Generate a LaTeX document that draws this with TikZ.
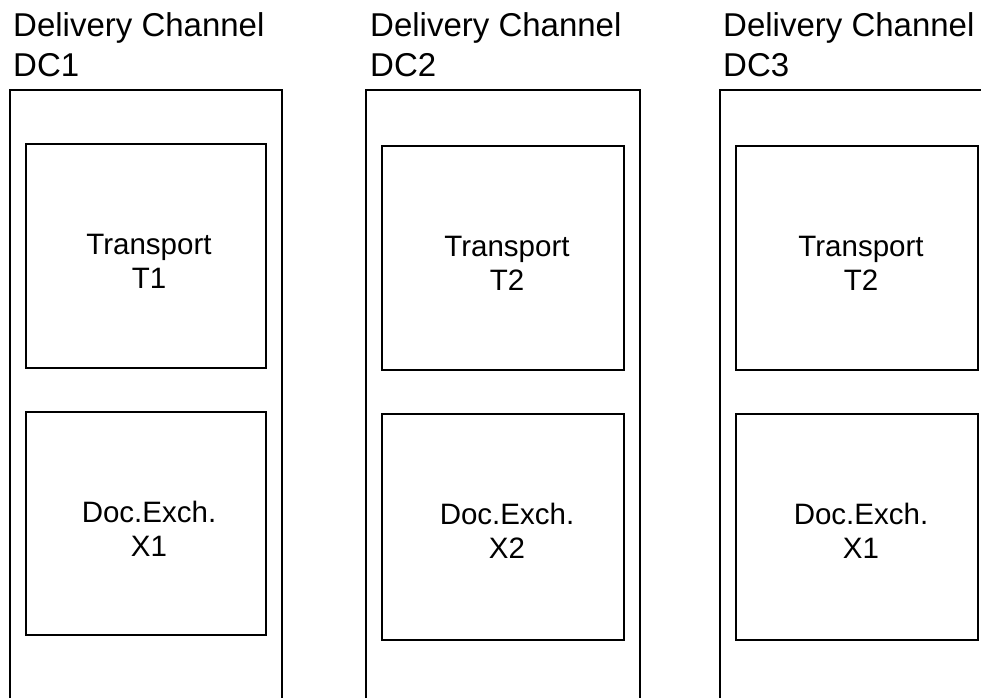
\documentclass[tikz,border=0pt]{standalone}
\usepackage{fontspec}
\setmainfont{Liberation Sans}
\begin{document}
\begin{tikzpicture}[x=1pt,y=-1pt,
  chan/.style={draw=black, line width=2pt},
  layerbox/.style={draw=black, line width=2pt, inner sep=0pt, anchor=north west},
  head/.style={anchor=base west, inner sep=0pt, font=\fontsize{33}{40}\selectfont},
  lbl/.style={anchor=base, inner sep=0pt, font=\fontsize{29.5}{34}\selectfont}]
\useasboundingbox (0,0) rectangle (981,698);

% ---- Delivery channel DC1 ----
\coordinate (c1bl) at (10,698);
\coordinate (c1tl) at (10,90);
\coordinate (c1tr) at (282,90);
\coordinate (c1br) at (282,698);
\draw[chan] (c1bl) -- (c1tl) -- (c1tr) -- (c1br);
\node[head] (h1a) at (13,37) {Delivery Channel};
\node[head] (h1b) at (13,77) {DC1};
\node[layerbox, minimum width=240pt, minimum height=224pt] (t1) at (25,143) {};
\node[lbl] (t1a) at (149,254) {Transport};
\node[lbl] (t1b) at (149,288) {T1};
\node[layerbox, minimum width=240pt, minimum height=223pt] (x1) at (25,411) {};
\node[lbl] (x1a) at (149,522) {Doc.Exch.};
\node[lbl] (x1b) at (149,556) {X1};

% ---- Delivery channel DC2 ----
\coordinate (c2bl) at (366,698);
\coordinate (c2tl) at (366,90);
\coordinate (c2tr) at (640,90);
\coordinate (c2br) at (640,698);
\draw[chan] (c2bl) -- (c2tl) -- (c2tr) -- (c2br);
\node[head] (h2a) at (370,37) {Delivery Channel};
\node[head] (h2b) at (370,77) {DC2};
\node[layerbox, minimum width=242pt, minimum height=224pt] (t2) at (381,145) {};
\node[lbl] (t2a) at (507,256) {Transport};
\node[lbl] (t2b) at (507,290) {T2};
\node[layerbox, minimum width=242pt, minimum height=226pt] (x2) at (381,413) {};
\node[lbl] (x2a) at (507,524) {Doc.Exch.};
\node[lbl] (x2b) at (507,558) {X2};

% ---- Delivery channel DC3 (right side runs off the page) ----
\coordinate (c3bl) at (720,698);
\coordinate (c3tl) at (720,90);
\coordinate (c3tr) at (985,90);
\draw[chan] (c3bl) -- (c3tl) -- (c3tr);
\node[head] (h3a) at (723,37) {Delivery Channel};
\node[head] (h3b) at (723,77) {DC3};
\node[layerbox, minimum width=242pt, minimum height=224pt] (t3) at (735,145) {};
\node[lbl] (t3a) at (861,256) {Transport};
\node[lbl] (t3b) at (861,290) {T2};
\node[layerbox, minimum width=242pt, minimum height=226pt] (x3) at (735,413) {};
\node[lbl] (x3a) at (861,524) {Doc.Exch.};
\node[lbl] (x3b) at (861,558) {X1};
\end{tikzpicture}
\end{document}
